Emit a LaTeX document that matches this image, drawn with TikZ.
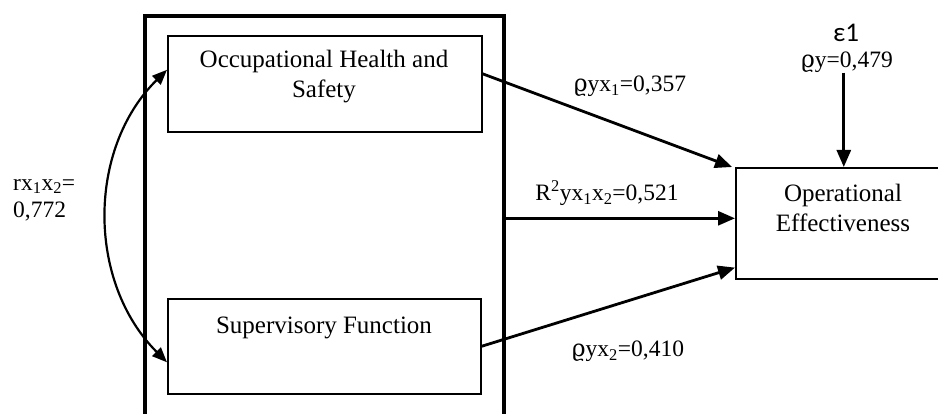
\documentclass[tikz,border=0pt]{standalone}
\usepackage{fontspec}
\setmainfont{Liberation Serif}
\newfontfamily\greekserif{DejaVu Serif}
\newfontfamily\epsfont{Carlito}
\usetikzlibrary{arrows.meta}
\newcommand{\rhosym}{{\greekserif ϱ}}

\begin{document}
\begin{tikzpicture}[x=1pt,y=-1pt,
  box/.style={draw,line width=1.6pt,inner sep=0pt},
  effect/.style={line width=2.8pt,-{Triangle[length=17pt,width=14pt]}},
  corr/.style={line width=2.2pt,{Triangle[length=15pt,width=12pt]}-{Triangle[length=15pt,width=12pt]}},
  lbl/.style={font=\fontsize{23.5}{27}\selectfont,inner sep=0pt},
  txt/.style={font=\fontsize{25}{30}\selectfont,align=center,inner sep=0pt}]
\useasboundingbox (0,0) rectangle (938,414);

% frame around the two predictors
\node[draw,line width=3.6pt,minimum width=359pt,minimum height=440pt,
      anchor=north west,inner sep=0pt] (grp) at (143,14) {};

% predictor and outcome boxes
\node[box,minimum width=314pt,minimum height=96pt,anchor=north west] (ohs) at (167,35) {};
\node[txt] (ohst) at (324,77) {Occupational Health and\\Safety};
\node[box,minimum width=313pt,minimum height=95pt,anchor=north west] (sf) at (167,298) {};
\node[txt] (sft) at (324,328) {Supervisory Function};
\node[box,minimum width=216pt,minimum height=111pt,anchor=north west] (oe) at (735,167) {};
\node[txt] (oet) at (843,208) {Operational\\Effectiveness};

% error term
\node[font=\epsfont\fontsize{27}{30}\selectfont,inner sep=0pt] (eps) at (846,33) {ε1};
\node[lbl] (rho) at (847,62) {\rhosym y=0,479};

% coefficient labels
\node[lbl] (l1) at (630,86) {\rhosym yx\textsubscript{1}=0,357};
\node[lbl] (l2) at (607,193) {R\textsuperscript{2}yx\textsubscript{1}x\textsubscript{2}=0,521};
\node[lbl] (l3) at (628,351) {\rhosym yx\textsubscript{2}=0,410};
\node[lbl,align=left,anchor=west] (rl) at (13,200) {rx\textsubscript{1}x\textsubscript{2}=\\0,772};

% paths
\coordinate (m) at ([yshift=5pt]oe.west);
\draw[effect] ([yshift=10pt]ohs.east) -- ([xshift=-3pt]oe.north west);
\draw[effect] (grp.east |- m) -- (m);
\draw[effect] (sf.east) -- ([yshift=12pt]oe.south west);
\draw[effect] (rho.south -| oe.north) -- (oe.north);

% correlation between predictors
\draw[corr] ([yshift=14pt]ohs.west) .. controls (87,149) and (87,282) .. ([yshift=-16pt]sf.west);
\end{tikzpicture}
\end{document}
